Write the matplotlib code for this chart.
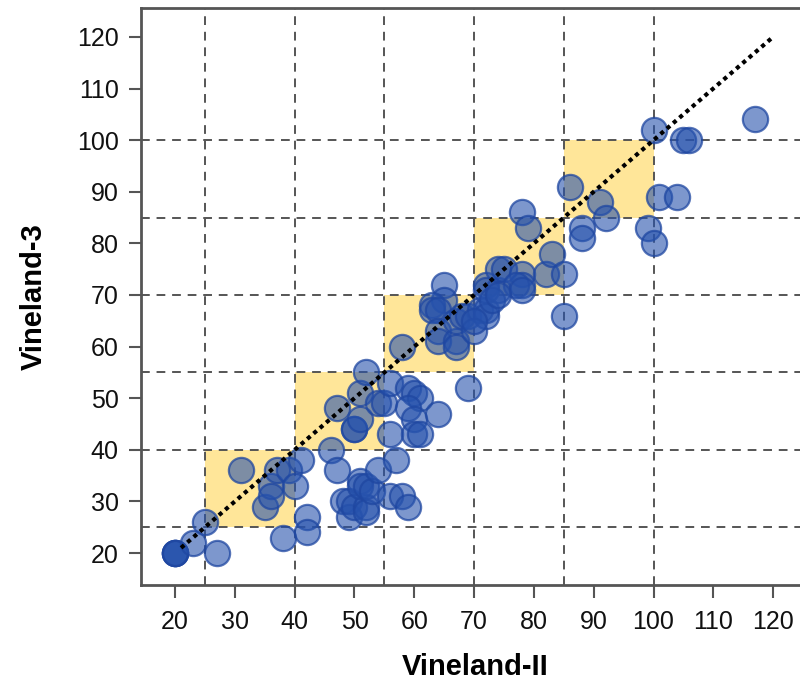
import matplotlib
matplotlib.use("Agg")
import matplotlib.pyplot as plt
from matplotlib.patches import Rectangle

# ---- data ----
vineland_ii = [20, 20, 20, 20, 23, 25, 27, 31, 35, 36, 36, 37, 39, 40, 41, 38, 42, 42,
               46, 47, 47, 48, 49, 49, 50, 52, 52, 51, 51, 52, 53, 54, 57, 56, 58, 59,
               50, 50, 51, 51, 52, 54, 55, 56, 56, 59, 60, 61, 59, 60, 64, 60, 61, 69,
               58, 65, 65, 63, 63, 64, 64, 64, 67, 67, 67, 68, 69, 71, 72, 72, 70, 70,
               72, 72, 74, 73, 74, 75, 78, 78, 77, 78, 74,
               78, 79, 82, 83, 85, 85, 86, 88, 88, 91, 92, 99, 100, 101, 104,
               100, 105, 106, 117]
vineland_3 = [20, 20, 20, 20, 22, 26, 20, 36, 29, 33, 31, 36, 36, 33, 38, 23, 27, 24,
              40, 36, 48, 30, 27, 30, 29, 29, 28, 34, 33, 33, 32, 36, 38, 31, 31, 29,
              44, 44, 46, 51, 55, 49, 49, 53, 43, 52, 51, 50, 48, 46, 47, 43, 43, 52,
              60, 72, 69, 68, 67, 67, 63, 61, 61, 60, 65, 66, 66, 67, 67, 66, 63, 65,
              72, 71, 71, 69, 75, 75, 74, 72, 72, 71, 70,
              86, 83, 74, 78, 74, 66, 91, 83, 81, 88, 85, 83, 80, 89, 89,
              102, 100, 100, 104]
band_edges = [25, 40, 55, 70, 85, 100]
ticks = [20, 30, 40, 50, 60, 70, 80, 90, 100, 110, 120]
identity_range = [21, 120]
x_label = "Vineland-II"
y_label = "Vineland-3"

# ---- figure ----
plt.rcParams['font.family'] = ['Liberation Sans', 'DejaVu Sans']
fig = plt.figure(figsize=(8, 6.88), dpi=100)
ax = fig.add_axes([141/800, 103/688, 668/800, 577/688])
ax.set_xlim(14.3, 126)
ax.set_ylim(13.8, 125.6)

# yellow agreement squares
for lo, hi in zip(band_edges[:-1], band_edges[1:]):
    ax.add_patch(Rectangle((lo, lo), hi - lo, hi - lo, facecolor='#FFE699',
                           edgecolor='none', zorder=0))

# dashed grid at band edges
for e in band_edges:
    ax.axvline(e, color='#555555', lw=1.4, dashes=(4.5, 3.5), zorder=1)
    ax.axhline(e, color='#555555', lw=1.4, dashes=(4.5, 3.5), zorder=1)

ax.scatter(vineland_ii, vineland_3, s=330, facecolor=(0.15, 0.32, 0.68, 0.6),
           edgecolor=(0.12, 0.28, 0.63, 0.75), linewidth=1.6, zorder=2)

ax.plot(identity_range, identity_range, color='black', lw=3,
        linestyle=(0, (1, 1)), zorder=3)

ax.set_xticks(ticks)
ax.set_yticks(ticks)
ax.tick_params(axis='both', direction='out', length=9, width=1.5, color='#555555',
               labelsize=18, labelcolor='#111111')
ax.tick_params(axis='x', pad=9)
ax.tick_params(axis='y', pad=7)
for sp in ax.spines.values():
    sp.set_color('#555555')
    sp.set_linewidth(2)

ax.set_xlabel(x_label, fontsize=21, fontweight='bold', labelpad=14)
ax.set_ylabel(y_label, fontsize=21, fontweight='bold', labelpad=21)

fig.savefig("out.png", dpi=100)
